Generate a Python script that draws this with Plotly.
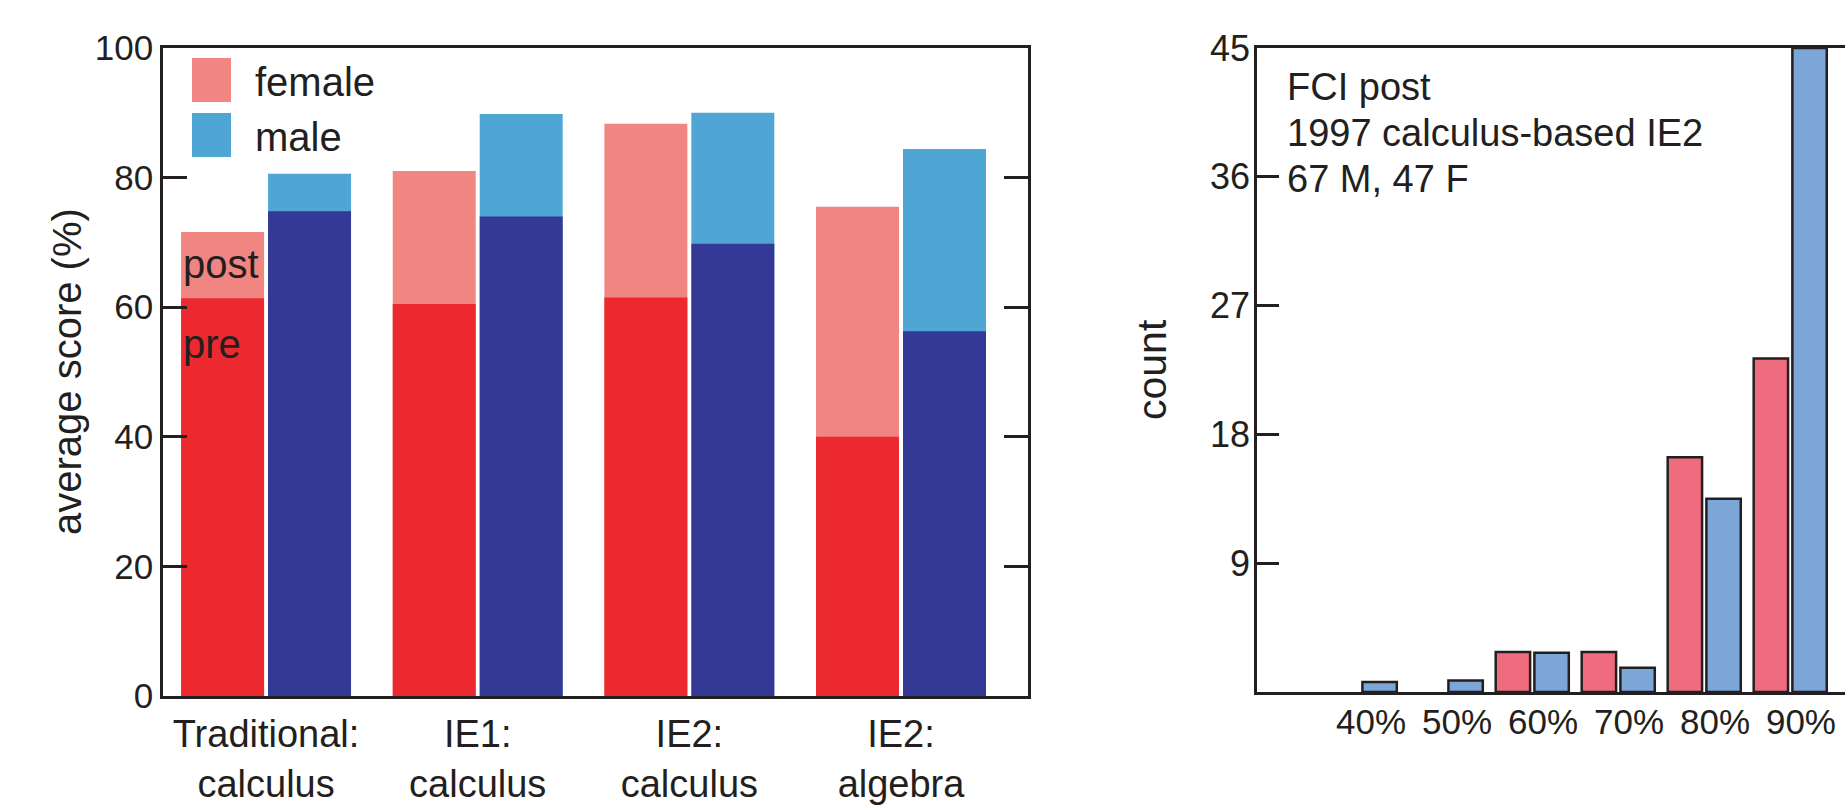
import plotly.graph_objects as go

# ---------------- data ----------------
groups = ["Traditional:<br>calculus", "IE1:<br>calculus", "IE2:<br>calculus", "IE2:<br>algebra"]
female_pre = [61.4, 60.5, 61.5, 40.0]
female_post = [71.6, 81.0, 88.3, 75.5]
male_pre = [74.8, 74.0, 69.8, 56.3]
male_post = [80.6, 89.8, 90.0, 84.4]
score_ticks = [0, 20, 40, 60, 80, 100]

bins = ["40%", "50%", "60%", "70%", "80%", "90%"]
fci_female = [None, None, 2.8, 2.8, 16.4, 23.3]
fci_male = [0.7, 0.8, 2.75, 1.7, 13.5, 45.0]
count_ticks = [9, 18, 27, 36, 45]

# ---------------- style ----------------
W, H = 1845, 809
INK = "#231F20"
FONT = "Liberation Sans, Arial, Helvetica, sans-serif"
C_FPRE, C_FPOST = "#EC292E", "#F08581"
C_MPRE, C_MPOST = "#343996", "#4FA5D4"
C_F2, C_M2 = "#EF6C7E", "#7CA5D8"


def px_x(p):
    return p / W


def px_y(p):
    return 1 - p / H


fig = go.Figure()

# left panel: overlayed post (full) and pre bars
bw = 0.392
f_off, m_off = -0.4015, 0.0094
fig.add_trace(go.Bar(x=groups, y=female_post, name="female post", marker_color=C_FPOST,
                     offset=f_off, width=bw, marker_line_width=0, showlegend=False,
                     xaxis="x", yaxis="y"))
fig.add_trace(go.Bar(x=groups, y=female_pre, name="female pre", marker_color=C_FPRE,
                     offset=f_off, width=bw, marker_line_width=0, showlegend=False,
                     xaxis="x", yaxis="y"))
fig.add_trace(go.Bar(x=groups, y=male_post, name="male post", marker_color=C_MPOST,
                     offset=m_off, width=bw, marker_line_width=0, showlegend=False,
                     xaxis="x", yaxis="y"))
fig.add_trace(go.Bar(x=groups, y=male_pre, name="male pre", marker_color=C_MPRE,
                     offset=m_off, width=bw, marker_line_width=0, showlegend=False,
                     xaxis="x", yaxis="y"))

# right panel: histogram-like grouped bars
bw2 = 0.40
fig.add_trace(go.Bar(x=bins, y=fci_female, name="F", marker_color=C_F2,
                     marker_line_color=INK, marker_line_width=2.5,
                     offset=-0.55, width=bw2, showlegend=False, xaxis="x2", yaxis="y2"))
fig.add_trace(go.Bar(x=bins, y=fci_male, name="M", marker_color=C_M2,
                     marker_line_color=INK, marker_line_width=2.5,
                     offset=-0.10, width=bw2, showlegend=False, xaxis="x2", yaxis="y2"))

axis_common = dict(showline=True, linecolor=INK, linewidth=2.5, showgrid=False,
                   zeroline=False, automargin=False)

fig.update_layout(
    width=W, height=H,
    margin=dict(l=0, r=0, t=0, b=0, pad=0),
    paper_bgcolor="white", plot_bgcolor="white",
    barmode="overlay",
    font=dict(family=FONT, color=INK, size=35),
    xaxis=dict(domain=[px_x(163), px_x(1028)], type="category", range=[-0.487, 3.6],
               mirror=True, ticks="", tickfont=dict(size=38), ticklabelstandoff=3,
               anchor="y", **axis_common),
    yaxis=dict(domain=[px_y(696), px_y(48)], range=[0, 100], tickvals=score_ticks,
               ticks="inside", ticklen=24, tickwidth=2.5, tickcolor=INK, mirror="ticks",
               tickfont=dict(size=35), ticklabelstandoff=0, anchor="x", **axis_common),
    xaxis2=dict(domain=[px_x(1257), 1.0], type="category", range=[-1.326, 5.512],
                mirror=True, ticks="", tickfont=dict(size=35), ticklabelstandoff=-3,
                anchor="y2", **axis_common),
    yaxis2=dict(domain=[px_y(692), px_y(48)], range=[0, 45], tickvals=count_ticks,
                ticks="inside", ticklen=22, tickwidth=2.5, tickcolor=INK, mirror=False,
                tickfont=dict(size=36), ticklabelstandoff=-3, anchor="x2", **axis_common),
)

annotations = [
    dict(text="average score (%)", x=px_x(67), y=px_y(372), xref="paper", yref="paper",
         textangle=-90, showarrow=False, font=dict(size=40), xanchor="center", yanchor="middle"),
    dict(text="count", x=px_x(1152), y=px_y(370), xref="paper", yref="paper",
         textangle=-90, showarrow=False, font=dict(size=41), xanchor="center", yanchor="middle"),
    dict(text="post", x=-0.40, y=66.7, xref="x", yref="y", showarrow=False,
         font=dict(size=40), xanchor="left", yanchor="middle"),
    dict(text="pre", x=-0.40, y=54.3, xref="x", yref="y", showarrow=False,
         font=dict(size=40), xanchor="left", yanchor="middle"),
    dict(text="female", x=px_x(253), y=px_y(82), xref="paper", yref="paper", showarrow=False,
         font=dict(size=40), xanchor="left", yanchor="middle"),
    dict(text="male", x=px_x(253), y=px_y(137), xref="paper", yref="paper", showarrow=False,
         font=dict(size=40), xanchor="left", yanchor="middle"),
    dict(text="FCI post", x=px_x(1285), y=px_y(87.5), xref="paper", yref="paper", showarrow=False,
         font=dict(size=38), xanchor="left", yanchor="middle"),
    dict(text="1997 calculus-based IE2", x=px_x(1285), y=px_y(133.5), xref="paper", yref="paper",
         showarrow=False, font=dict(size=38), xanchor="left", yanchor="middle"),
    dict(text="67 M, 47 F", x=px_x(1285), y=px_y(178.5), xref="paper", yref="paper",
         showarrow=False, font=dict(size=38), xanchor="left", yanchor="middle"),
]
fig.update_layout(annotations=annotations)

# legend swatches
fig.add_shape(type="rect", xref="paper", yref="paper", x0=px_x(192), x1=px_x(231),
              y0=px_y(102), y1=px_y(58), fillcolor=C_FPOST, line_width=0)
fig.add_shape(type="rect", xref="paper", yref="paper", x0=px_x(192), x1=px_x(231),
              y0=px_y(157), y1=px_y(113), fillcolor=C_MPOST, line_width=0)

fig.write_html("out.html")
